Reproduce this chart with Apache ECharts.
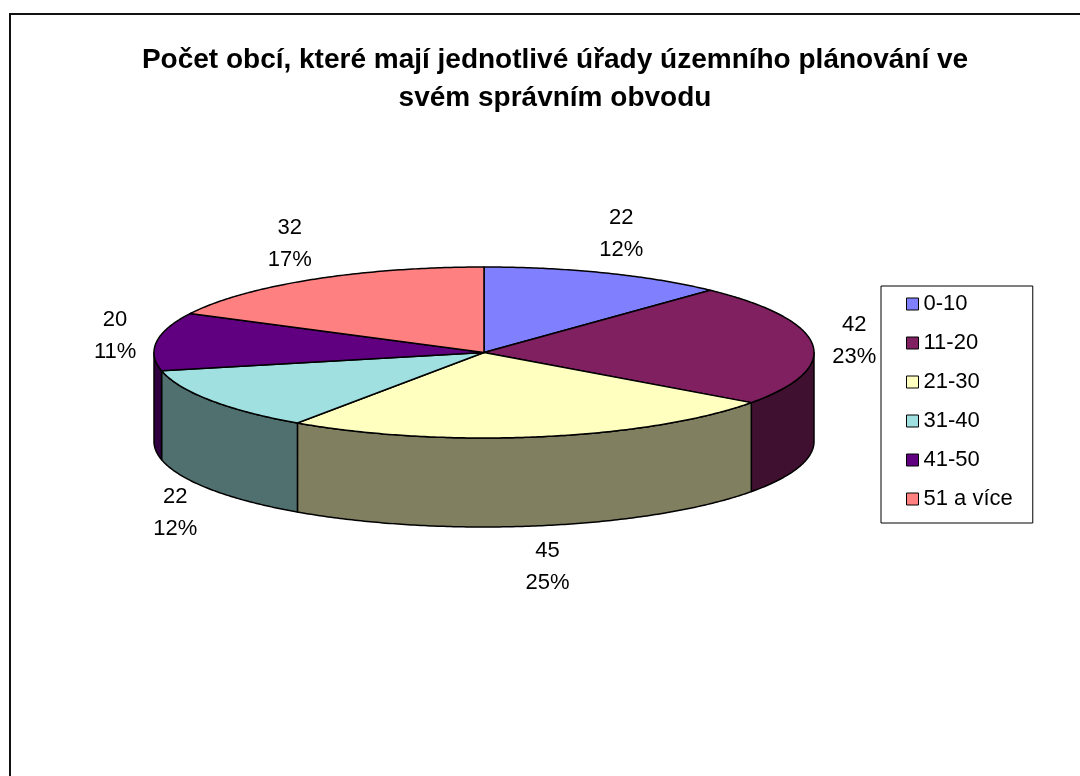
<!DOCTYPE html>
<html>
<head>
<meta charset="utf-8">
<script src="https://cdn.jsdelivr.net/npm/echarts@6/dist/echarts.min.js"></script>
<style>
    html, body { margin: 0; padding: 0; background: #fff; }
    #main { width: 1080px; height: 776px; }
</style>
</head>
<body>
<div id="main"></div>
<script type="text/javascript">
// data
var categories = ['0-10', '11-20', '21-30', '31-40', '41-50', '51 a více'];
var values = [22, 42, 45, 22, 20, 32];
var topColors = ['#8080FF', '#802060', '#FFFFC0', '#A0E0E0', '#600080', '#FF8080'];
var sideColors = ['#404080', '#401030', '#808060', '#507070', '#300040', '#804040'];

// pie geometry (ellipse + wall height)
var cx = 484, cy = 352.5, rx = 330, ry = 85.5, depth = 89;
var font = 'Arial, "Liberation Sans", sans-serif';

var total = values.reduce(function (s, v) { return s + v; }, 0);
var starts = [];
var acc = 0;
values.forEach(function (v) { starts.push(acc / total); acc += v; });

function pt(a, dy) {
    return [cx + rx * Math.sin(a), cy - ry * Math.cos(a) + (dy || 0)];
}
function arc(a0, a1, dy) {
    var pts = [];
    var n = Math.max(4, Math.ceil((a1 - a0) / 0.01));
    for (var k = 0; k <= n; k++) pts.push(pt(a0 + (a1 - a0) * k / n, dy));
    return pts;
}

function renderSlice(i) {
    return function (params, api) {
        var a0 = api.value(1) * Math.PI * 2;
        var a1 = api.value(2) * Math.PI * 2;
        var children = [];
        // front wall
        var w0 = Math.max(a0, Math.PI / 2), w1 = Math.min(a1, Math.PI * 1.5);
        if (w1 > w0) {
            var wall = arc(w0, w1, 0).concat(arc(w0, w1, depth).reverse());
            children.push({
                type: 'polygon', z2: 1,
                shape: { points: wall },
                style: { fill: sideColors[i], stroke: '#000', lineWidth: 1.5, lineJoin: 'round' }
            });
        }
        // top face
        children.push({
            type: 'polygon', z2: 2,
            shape: { points: [[cx, cy]].concat(arc(a0, a1, 0)) },
            style: { fill: topColors[i], stroke: '#000', lineWidth: 1.5, lineJoin: 'round' }
        });
        // label
        var m = (a0 + a1) / 2;
        var p = pt(m, Math.cos(m) < 0 ? depth : 0);
        var v = api.value(0);
        children.push({
            type: 'text', z2: 3,
            x: p[0] + 42 * Math.sin(m),
            y: p[1] - 42 * Math.cos(m),
            style: {
                text: v + '\n' + Math.round(v / total * 100) + '%',
                font: '22px ' + font,
                lineHeight: 32,
                fill: '#000',
                align: 'center',
                verticalAlign: 'middle'
            }
        });
        return { type: 'group', children: children };
    };
}

var series = categories.map(function (name, i) {
    return {
        type: 'custom',
        name: name,
        coordinateSystem: 'none',
        itemStyle: { color: topColors[i] },
        renderItem: renderSlice(i),
        data: [[values[i], starts[i], starts[i] + values[i] / total]]
    };
});

var myChart = echarts.init(document.getElementById('main'));
var option = {
    animation: false,
    title: {
        text: 'Počet obcí, které mají jednotlivé úřady územního plánování ve\nsvém správním obvodu',
        left: 555,
        top: 41,
        textAlign: 'center',
        padding: 0,
        textStyle: {
            fontFamily: font,
            fontSize: 28,
            fontWeight: 'bold',
            lineHeight: 38,
            color: '#000'
        }
    },
    legend: {
        data: categories,
        orient: 'vertical',
        left: 881,
        top: 286,
        padding: [7, 20, 13, 25],
        itemWidth: 12,
        itemHeight: 12,
        itemGap: 17,
        icon: 'rect',
        selectedMode: false,
        borderColor: '#000',
        borderWidth: 1,
        itemStyle: { borderColor: '#000', borderWidth: 1 },
        textStyle: { fontFamily: font, fontSize: 22, lineHeight: 20, color: '#000' }
    },
    graphic: [{
        type: 'rect',
        shape: { x: 10, y: 14, width: 1100, height: 800 },
        style: { fill: 'none', stroke: '#111', lineWidth: 2 }
    }],
    series: series
};
myChart.setOption(option);
</script>
</body>
</html>
